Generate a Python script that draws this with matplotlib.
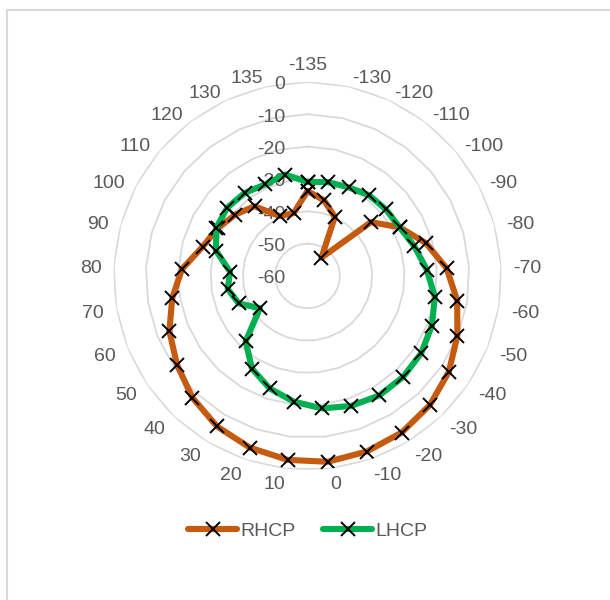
import numpy as np
import matplotlib.pyplot as plt

plt.rcParams["font.family"] = ["Liberation Sans", "DejaVu Sans"]

# angle categories (clockwise from top)
categories = [-135, -130, -120, -110, -100, -90, -80, -70, -60, -50, -40, -30, -20, -10,
              0, 10, 20, 30, 40, 50, 60, 70, 80, 90, 100, 110, 120, 130, 135]
rhcp = [-33.7, -36.1, -39.9, -52.9, -34.3, -27.8, -22.0, -16.9, -13.1, -10.1, -7.2, -5.0,
        -3.5, -2.7, -2.2, -2.8, -4.0, -5.7, -8.2, -11.2, -14.0, -17.6, -21.1, -26.3,
        -28.5, -30.7, -32.9, -39.6, -40.1]
lhcp = [-30.9, -30.3, -29.8, -28.6, -28.2, -27.8, -25.7, -23.1, -20.1, -18.6, -17.5, -17.0,
        -16.9, -17.6, -18.8, -20.9, -23.3, -26.6, -32.2, -42.2, -37.1, -35.0, -36.0, -30.6,
        -28.1, -27.4, -27.8, -28.8, -27.9]
r_ticks = [0, -10, -20, -30, -40, -50, -60]

GRAY_TXT = "#595959"
GRID = "#D9D9D9"
px = 72 / 100  # pixels -> points

fig = plt.figure(figsize=(6.1, 6.0), dpi=100)

# chart area border (Excel style)
fig.patches.append(plt.Rectangle((7 / 610, -0.01), 1.0, 1 - 9.5 / 600 + 0.01,
                                 transform=fig.transFigure, fill=False,
                                 edgecolor=GRID, linewidth=1.5))

ax = fig.add_axes([0.1861, 0.2167, 0.6361, 0.6467], projection="polar")
ax.set_theta_zero_location("N")
ax.set_theta_direction(-1)
ax.set_ylim(-60, 0)
ax.grid(False)
ax.set_xticks([])
ax.set_yticks([])
ax.spines["polar"].set_visible(False)
ax.patch.set_visible(False)

n = len(categories)
theta = np.arange(n) * 2 * np.pi / n
theta_closed = np.append(theta, theta[0])

# polygon gridlines
for v in r_ticks[:-1]:
    ax.plot(theta_closed, [v] * (n + 1), color=GRID, linewidth=1.3, zorder=1)

# series
for vals, col, name in [(rhcp, "#C55A11", "RHCP"), (lhcp, "#00B050", "LHCP")]:
    ax.plot(theta_closed, vals + vals[:1], color=col, linewidth=4.4,
            solid_capstyle="round", solid_joinstyle="round",
            marker="x", markersize=10, markeredgecolor="black",
            markeredgewidth=1.4, label=name, zorder=3)

# category labels around the outside (box edge next to the vertex, like Excel)
for t, c in zip(theta, categories):
    s, co = np.sin(t), np.cos(t)
    if s > 0.01:
        ha, va = "left", "center"
    elif s < -0.01:
        ha, va = "right", "center"
    else:
        ha, va = "center", "bottom"
    d = 12
    ax.annotate(str(c), xy=(t, 0), xytext=(d * s * px, (d * co - 4) * px),
                textcoords="offset points", ha=ha, va=va,
                fontsize=14, color=GRAY_TXT, annotation_clip=False)

# value axis labels
for v in r_ticks:
    ax.annotate(str(v), xy=(0, v), xytext=(-22 * px, -3 * px),
                textcoords="offset points", ha="right", va="center",
                fontsize=14, color=GRAY_TXT, annotation_clip=False, zorder=2)

fig.legend(loc="center", bbox_to_anchor=(308 / 610, 1 - 531 / 600), ncol=2,
           frameon=False, fontsize=14, handlelength=2.5, handletextpad=0.2,
           columnspacing=1.4, labelcolor=GRAY_TXT)

fig.savefig("out.png", dpi=100)
